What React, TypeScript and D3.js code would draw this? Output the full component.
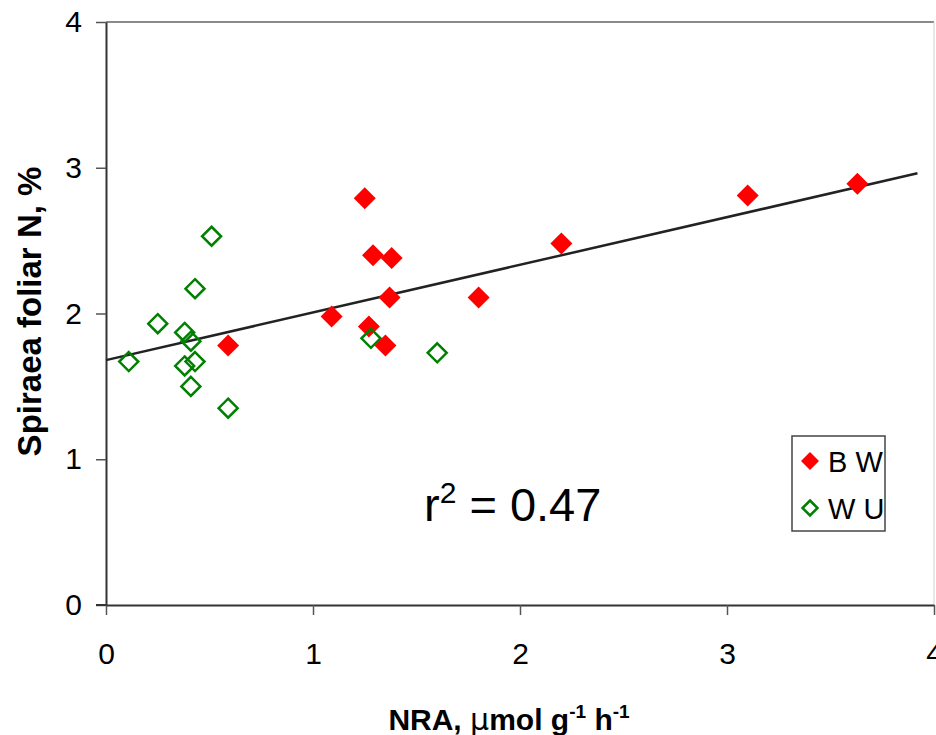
import React, { useEffect, useRef } from 'react';
import * as d3 from 'd3';

// B W series (filled red diamonds)
const bwX = [0.59, 1.09, 1.25, 1.29, 1.38, 1.27, 1.35, 1.37, 1.80, 2.20, 3.10, 3.63];
const bwY = [1.78, 1.98, 2.79, 2.40, 2.38, 1.91, 1.78, 2.11, 2.11, 2.48, 2.81, 2.89];

// W U series (hollow green diamonds)
const wuX = [0.51, 0.43, 0.25, 0.38, 0.41, 0.11, 0.43, 0.38, 0.41, 0.59, 1.28, 1.60];
const wuY = [2.53, 2.17, 1.93, 1.87, 1.81, 1.67, 1.67, 1.64, 1.50, 1.35, 1.83, 1.73];

const xTicks = [0, 1, 2, 3, 4];
const yTicks = [0, 1, 2, 3, 4];

// linear trend line
const trendIntercept = 1.68;
const trendSlope = 0.327;
const trendRange = [0, 3.92];

const legendLabels = ['B W', 'W U'];

export default function App() {
  const ref = useRef<SVGSVGElement>(null);

  useEffect(() => {
    const svg = d3.select(ref.current);
    svg.selectAll('*').remove();

    const width = 936;
    const height = 735;
    const margin = { top: 22, right: 1, bottom: 130, left: 106 };

    svg.attr('width', width).attr('height', height);

    const x = d3.scaleLinear().domain([0, 4]).range([margin.left, width - margin.right - 1]);
    const y = d3.scaleLinear().domain([0, 4]).range([height - margin.bottom, margin.top]);

    const font = 'Arial, "Liberation Sans", sans-serif';

    // top + right frame
    svg.append('line')
      .attr('x1', x(0)).attr('x2', x(4))
      .attr('y1', y(4)).attr('y2', y(4))
      .attr('stroke', '#8a8a8a').attr('stroke-width', 2);
    svg.append('line')
      .attr('x1', x(4)).attr('x2', x(4))
      .attr('y1', y(4)).attr('y2', y(0))
      .attr('stroke', '#d0d0d0').attr('stroke-width', 1);

    // axes
    const xAxis = svg.append('g')
      .attr('transform', `translate(0, ${y(0)})`)
      .call(d3.axisBottom(x).tickValues(xTicks).tickSize(10).tickSizeOuter(0).tickPadding(28).tickFormat(d3.format('d')));
    xAxis.select('.domain').attr('stroke', '#333').attr('stroke-width', 2);
    xAxis.selectAll('.tick line').attr('stroke', '#555').attr('stroke-width', 1.5);
    xAxis.selectAll('text').attr('font-family', font).attr('font-size', 30).attr('fill', '#000');

    const yAxis = svg.append('g')
      .attr('transform', `translate(${x(0)}, 0)`)
      .call(d3.axisLeft(y).tickValues(yTicks).tickSize(10).tickSizeOuter(0).tickPadding(14).tickFormat(d3.format('d')));
    yAxis.select('.domain').attr('stroke', '#333').attr('stroke-width', 2);
    yAxis.selectAll('.tick line').attr('stroke', '#555').attr('stroke-width', 1.5);
    yAxis.selectAll('text').attr('font-family', font).attr('font-size', 30).attr('fill', '#000');

    // x axis extends left to the y tick
    svg.append('line')
      .attr('x1', x(0) - 10).attr('x2', x(0))
      .attr('y1', y(0)).attr('y2', y(0))
      .attr('stroke', '#333').attr('stroke-width', 2);

    // trend line
    svg.append('line')
      .attr('x1', x(trendRange[0])).attr('y1', y(trendIntercept + trendSlope * trendRange[0]))
      .attr('x2', x(trendRange[1])).attr('y2', y(trendIntercept + trendSlope * trendRange[1]))
      .attr('stroke', '#222').attr('stroke-width', 2.5);

    const diamond = (r: number) => `M0,${-r}L${r},0L0,${r}L${-r},0Z`;

    svg.append('g').selectAll('path')
      .data(d3.range(bwX.length))
      .enter().append('path')
      .attr('d', diamond(11))
      .attr('transform', i => `translate(${x(bwX[i])},${y(bwY[i])})`)
      .attr('fill', '#ff0000');

    svg.append('g').selectAll('path')
      .data(d3.range(wuX.length))
      .enter().append('path')
      .attr('d', diamond(9.5))
      .attr('transform', i => `translate(${x(wuX[i])},${y(wuY[i])})`)
      .attr('fill', 'none')
      .attr('stroke', '#008000')
      .attr('stroke-width', 2.5);

    // legend
    const lg = svg.append('g').attr('transform', 'translate(792, 436)');
    lg.append('rect')
      .attr('width', 93).attr('height', 95)
      .attr('fill', '#fff').attr('stroke', '#444').attr('stroke-width', 1.5);
    lg.append('path').attr('d', diamond(9))
      .attr('transform', 'translate(18, 25)').attr('fill', '#ff0000');
    lg.append('path').attr('d', diamond(7.5))
      .attr('transform', 'translate(18, 72)').attr('fill', 'none')
      .attr('stroke', '#008000').attr('stroke-width', 2.5);
    legendLabels.forEach((t, i) => {
      lg.append('text')
        .attr('x', 36).attr('y', 36 + i * 47)
        .attr('font-family', font).attr('font-size', 29)
        .text(t);
    });

    // r² annotation
    const r2 = svg.append('text')
      .attr('x', 424).attr('y', 521)
      .attr('font-family', font).attr('font-size', 47);
    r2.append('tspan').text('r');
    r2.append('tspan').attr('font-size', 30).attr('dy', -18).text('2');
    r2.append('tspan').attr('dy', 18).text(' = 0.47');

    // axis titles
    const xt = svg.append('text')
      .attr('x', 509).attr('y', 730)
      .attr('text-anchor', 'middle')
      .attr('font-family', font).attr('font-size', 30).attr('font-weight', 'bold');
    xt.append('tspan').text('NRA, ');
    xt.append('tspan').attr('font-family', '"DejaVu Sans", sans-serif').attr('font-weight', 'normal').text('μ');
    xt.append('tspan').text('mol g');
    xt.append('tspan').attr('font-size', 19).attr('dy', -12).text('-1');
    xt.append('tspan').attr('dy', 12).text(' h');
    xt.append('tspan').attr('font-size', 19).attr('dy', -12).text('-1');

    svg.append('text')
      .attr('transform', `translate(41, ${y(2) - 2}) rotate(-90)`)
      .attr('text-anchor', 'middle')
      .attr('font-family', font).attr('font-size', 33).attr('font-weight', 'bold')
      .text('Spiraea foliar N, %');
  }, []);

  return <svg ref={ref} style={{ position: 'absolute', left: 0, top: 0, background: '#fff' }} />;
}
